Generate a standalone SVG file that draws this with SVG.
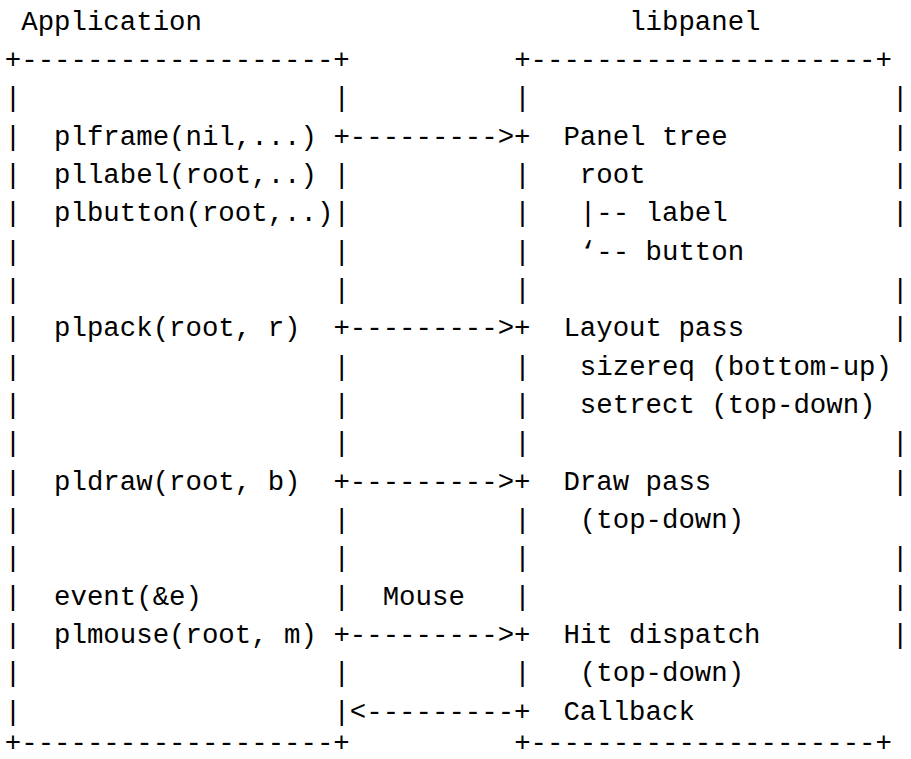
<svg xmlns="http://www.w3.org/2000/svg" width="911" height="759" viewBox="0 0 911 759" xml:space="preserve">
<style>
  .t { font-family: "Liberation Mono", "DejaVu Sans Mono", monospace; font-size: 27.38px; fill: #000; white-space: pre; }
</style>
<rect x="0" y="0" width="911" height="759" fill="#fff"/>
<g id="application" class="t">
  <text class="t" x="21.23" y="29.5">Application</text>
  <text class="t" x="4.8" y="67.85">+-------------------+</text>
  <text class="t"><tspan x="4.8" y="106.2">|</tspan><tspan x="4.8" y="144.55">|</tspan><tspan x="4.8" y="182.9">|</tspan><tspan x="4.8" y="221.25">|</tspan><tspan x="4.8" y="259.6">|</tspan><tspan x="4.8" y="297.95">|</tspan><tspan x="4.8" y="336.3">|</tspan><tspan x="4.8" y="374.65">|</tspan><tspan x="4.8" y="413">|</tspan><tspan x="4.8" y="451.35">|</tspan><tspan x="4.8" y="489.7">|</tspan><tspan x="4.8" y="528.05">|</tspan><tspan x="4.8" y="566.4">|</tspan><tspan x="4.8" y="604.75">|</tspan><tspan x="4.8" y="643.1">|</tspan><tspan x="4.8" y="681.45">|</tspan><tspan x="4.8" y="719.8">|</tspan></text>
  <text class="t"><tspan x="333.4" y="106.2">|</tspan><tspan x="333.4" y="182.9">|</tspan><tspan x="333.4" y="221.25">|</tspan><tspan x="333.4" y="259.6">|</tspan><tspan x="333.4" y="297.95">|</tspan><tspan x="333.4" y="374.65">|</tspan><tspan x="333.4" y="413">|</tspan><tspan x="333.4" y="451.35">|</tspan><tspan x="333.4" y="528.05">|</tspan><tspan x="333.4" y="566.4">|</tspan><tspan x="333.4" y="604.75">|</tspan><tspan x="333.4" y="681.45">|</tspan><tspan x="333.4" y="719.8">|</tspan></text>
  <text class="t" x="54.09" y="144.55">plframe(nil,...)</text>
  <text class="t" x="54.09" y="182.9">pllabel(root,..)</text>
  <text class="t" x="54.09" y="221.25">plbutton(root,..)</text>
  <text class="t" x="54.09" y="336.3">plpack(root, r)</text>
  <text class="t" x="54.09" y="489.7">pldraw(root, b)</text>
  <text class="t" x="54.09" y="604.75">event(&amp;e)</text>
  <text class="t" x="54.09" y="643.1">plmouse(root, m)</text>
  <text class="t" x="4.8" y="750.5">+-------------------+</text>
</g>
<g id="libpanel" class="t">
  <text class="t" x="629.14" y="29.5">libpanel</text>
  <text class="t" x="514.13" y="67.85">+---------------------+</text>
  <text class="t"><tspan x="514.13" y="106.2">|</tspan><tspan x="514.13" y="182.9">|</tspan><tspan x="514.13" y="221.25">|</tspan><tspan x="514.13" y="259.6">|</tspan><tspan x="514.13" y="297.95">|</tspan><tspan x="514.13" y="374.65">|</tspan><tspan x="514.13" y="413">|</tspan><tspan x="514.13" y="451.35">|</tspan><tspan x="514.13" y="528.05">|</tspan><tspan x="514.13" y="566.4">|</tspan><tspan x="514.13" y="604.75">|</tspan><tspan x="514.13" y="681.45">|</tspan></text>
  <text class="t"><tspan x="892.02" y="106.2">|</tspan><tspan x="892.02" y="144.55">|</tspan><tspan x="892.02" y="182.9">|</tspan><tspan x="892.02" y="221.25">|</tspan><tspan x="892.02" y="297.95">|</tspan><tspan x="892.02" y="336.3">|</tspan><tspan x="892.02" y="451.35">|</tspan><tspan x="892.02" y="489.7">|</tspan><tspan x="892.02" y="566.4">|</tspan><tspan x="892.02" y="604.75">|</tspan><tspan x="892.02" y="643.1">|</tspan></text>
  <text class="t" x="563.42" y="144.55">Panel tree</text>
  <text class="t" x="579.85" y="182.9">root</text>
  <text class="t" x="579.85" y="221.25">|-- label</text>
  <text class="t" x="579.85" y="259.6">‘-- button</text>
  <text class="t" x="563.42" y="336.3">Layout pass</text>
  <text class="t" x="579.85" y="374.65">sizereq (bottom-up)</text>
  <text class="t" x="579.85" y="413">setrect (top-down)</text>
  <text class="t" x="563.42" y="489.7">Draw pass</text>
  <text class="t" x="579.85" y="528.05">(top-down)</text>
  <text class="t" x="563.42" y="643.1">Hit dispatch</text>
  <text class="t" x="579.85" y="681.45">(top-down)</text>
  <text class="t" x="563.42" y="719.8">Callback</text>
  <text class="t" x="514.13" y="750.5">+---------------------+</text>
</g>
<g id="connectors" class="t">
  <text class="t" x="333.4" y="144.55">+---------&gt;+</text>
  <text class="t" x="333.4" y="336.3">+---------&gt;+</text>
  <text class="t" x="333.4" y="489.7">+---------&gt;+</text>
  <text class="t" x="382.69" y="604.75">Mouse</text>
  <text class="t" x="333.4" y="643.1">+---------&gt;+</text>
  <text class="t" x="349.83" y="719.8">&lt;---------+</text>
</g>
</svg>
